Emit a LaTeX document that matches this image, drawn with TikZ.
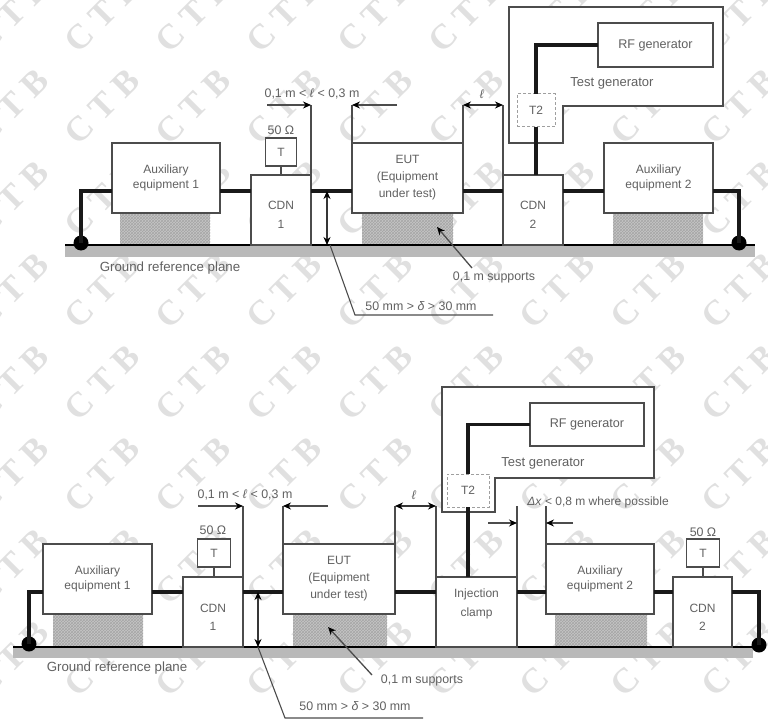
\documentclass[tikz,border=0pt]{standalone}
\usepackage{fontspec}
\setmainfont{Liberation Sans}
\newfontfamily\wmfont[LetterSpace=26]{Liberation Serif}
\usetikzlibrary{arrows.meta,patterns}
\definecolor{wmgray}{gray}{0.88}
\definecolor{ink}{gray}{0.30}
\definecolor{txt}{gray}{0.38}
\tikzset{
  x=1pt,y=-1pt,
  boxnode/.style={draw=ink,line width=1.5pt,fill=white,inner sep=0pt,outer sep=0pt,align=center,
    text=txt,font=\fontsize{12}{15}\selectfont},
  tbox/.style={boxnode,line width=1.1pt},
  t2box/.style={boxnode,draw=gray!75,line width=1pt,densely dashed,fill=white},
  supportnode/.style={inner sep=0pt,outer sep=0pt,preaction={fill=gray!45},pattern=crosshatch,pattern color=gray!70},
  wire/.style={line width=3.2pt,black!90},
  thin dim/.style={line width=1.3pt,ink},
  arrowline/.style={line width=1.3pt,ink,-{Stealth[length=8pt,width=7pt,black]}},
  dblarrow/.style={line width=1.3pt,ink!70!black,{Stealth[length=8pt,width=7pt,black]}-{Stealth[length=8pt,width=7pt,black]}},
  label/.style={text=txt,inner sep=0pt,font=\fontsize{12.4}{14}\selectfont},
  dot/.style={circle,fill=black,inner sep=0pt,minimum size=15pt},
  plane/.style={fill=gray!55,inner sep=0pt,outer sep=0pt},
  genline/.style={draw=ink,line width=1.3pt,fill=white},
  watermark/.style={text=wmgray,rotate=45,inner sep=0pt,font=\wmfont\bfseries\fontsize{35}{35}\selectfont}
}
\begin{document}
\begin{tikzpicture}
\useasboundingbox (0,0) rectangle (768,722);
\fill[white] (0,0) rectangle (768,722);
\begin{scope}
\clip (0,0) rectangle (768,722);
\foreach \i in {-1,...,8}{
  \foreach \j in {0,...,7}{
    \node[watermark] (wm\i x\j) at ({11+91*\i},{15+92*\j}) {CTB};
  }
}
\end{scope}

% ---------- top set-up ----------
\coordinate (busA) at (0,191);
\coordinate (dimA) at (0,105);
\node[plane,minimum width=690pt,minimum height=12pt] (gndA) at (410,251) {};
\node[supportnode,minimum width=90pt,minimum height=32pt] (supA1) at (165,229) {};
\node[supportnode,minimum width=91pt,minimum height=32pt] (supA2) at (407.5,229) {};
\node[supportnode,minimum width=90pt,minimum height=32pt] (supA3) at (658,229) {};
\draw[line width=2.2pt,black] (gndA.north west) -- (gndA.north east);

\draw[genline] (509,7) -- (723,7) -- (723,106) -- (563,106) -- (563,143) -- (509,143) -- cycle;

\node[boxnode,minimum width=108pt,minimum height=70pt] (auxA1) at (166,178) {Auxiliary\\equipment 1};
\node[boxnode,minimum width=60pt,minimum height=70pt] (cdnA1) at (281,210) {\mbox{}\\[3pt]CDN\\[3pt]1};
\node[boxnode,minimum width=111pt,minimum height=70pt] (eutA) at (407.5,178) {EUT\\[2pt](Equipment\\[2pt]under test)};
\node[boxnode,minimum width=60pt,minimum height=70pt] (cdnA2) at (533,210) {\mbox{}\\[3pt]CDN\\[3pt]2};
\node[boxnode,minimum width=109pt,minimum height=70pt] (auxA2) at (658.5,178) {Auxiliary\\equipment 2};
\node[tbox,minimum width=31pt,minimum height=28pt] (tA) at (281,152) {T};
\node[label] (ohmA) at (281,130) {50 Ω};
\node[boxnode,line width=1.3pt,minimum width=115pt,minimum height=44pt,font=\fontsize{12.6}{15}\selectfont] (rfA) at (655.5,45) {RF generator};
\node[t2box,minimum width=38pt,minimum height=33pt] (t2A) at (536,110.5) {T2};
\node[dot] (dotA1) at (81,243) {};
\node[dot] (dotA2) at (739,243) {};
\node[label,font=\fontsize{13}{15}\selectfont] (tgA) at (612,83) {Test generator};

\draw[wire] (dotA1.center) |- (auxA1.west |- busA);
\draw[wire] (auxA1.east |- busA) -- (cdnA1.west |- busA);
\draw[wire] (cdnA1.east |- busA) -- (eutA.west |- busA);
\draw[wire] (eutA.east |- busA) -- (cdnA2.west |- busA);
\draw[wire] (cdnA2.east |- busA) -- (auxA2.west |- busA);
\draw[wire] (auxA2.east |- busA) -| (dotA2.center);
\draw[wire] (rfA.west) -| (t2A.north);
\draw[wire] (t2A.south) -- (cdnA2.north -| t2A.south);
\draw[thin dim] (tA.south) -- (cdnA1.north);

\coordinate (a1a) at (267,105);
\coordinate (a1b) at (397,105);
\draw[thin dim] (cdnA1.north east) -- (cdnA1.east |- dimA);
\draw[thin dim] (eutA.north west) -- (eutA.west |- dimA);
\draw[arrowline] (a1a) -- (cdnA1.east |- dimA);
\draw[arrowline] (a1b) -- (eutA.west |- dimA);
\node[label] (lenA) at (312,94) {0,1 m < \emph{ℓ} < 0,3 m};
\draw[thin dim] (eutA.north east) -- (eutA.east |- dimA);
\draw[thin dim] (cdnA2.north west) -- (cdnA2.west |- dimA);
\draw[dblarrow] (eutA.east |- dimA) -- (cdnA2.west |- dimA);
\node[label] (ellA) at (482,94) {\emph{ℓ}};

\coordinate (hA) at (327,191);
\draw[dblarrow] (hA) -- (hA |- gndA.north);
\coordinate (l1A) at (330,245);
\coordinate (l2A) at (355,315);
\coordinate (l3A) at (493,315);
\draw[line width=1.1pt,ink] (l1A) -- (l2A) -- (l3A);
\node[label] (deltaA) at (421,306) {50 mm > \emph{δ} > 30 mm};
\node[label,font=\fontsize{13.3}{15}\selectfont] (grA) at (170,268) {Ground reference plane};
\coordinate (s1A) at (472,268);
\coordinate (s2A) at (437,227);
\draw[arrowline] (s1A) -- (s2A);
\node[label] (suppA) at (494,277) {0,1 m supports};

% ---------- bottom set-up ----------
\coordinate (busB) at (0,592);
\coordinate (dimB) at (0,506);
\node[plane,minimum width=740pt,minimum height=11pt] (gndB) at (383,652.5) {};
\node[supportnode,minimum width=90pt,minimum height=33pt] (supB1) at (98,630.5) {};
\node[supportnode,minimum width=94pt,minimum height=33pt] (supB2) at (340,630.5) {};
\node[supportnode,minimum width=92pt,minimum height=33pt] (supB3) at (601,630.5) {};
\draw[line width=2.2pt,black] (gndB.north west) -- (gndB.north east);

\draw[genline] (442,387) -- (654,387) -- (654,478) -- (495,478) -- (495,512) -- (442,512) -- cycle;

\node[boxnode,minimum width=109pt,minimum height=70pt] (auxB1) at (97.5,579) {Auxiliary\\equipment 1};
\node[boxnode,minimum width=60pt,minimum height=70pt] (cdnB1) at (213,612) {\mbox{}\\[3pt]CDN\\[3pt]1};
\node[boxnode,minimum width=112pt,minimum height=70pt] (eutB) at (339,579) {EUT\\[2pt](Equipment\\[2pt]under test)};
\node[boxnode,minimum width=81pt,minimum height=70pt] (clampB) at (476.5,612) {Injection\\[4pt]clamp\\[3pt]\mbox{}};
\node[boxnode,minimum width=108pt,minimum height=70pt] (auxB2) at (600,579) {Auxiliary\\equipment 2};
\node[boxnode,minimum width=59pt,minimum height=70pt] (cdnB2) at (702.5,612) {\mbox{}\\[3pt]CDN\\[3pt]2};
\node[tbox,minimum width=33pt,minimum height=28pt] (tB1) at (214,553) {T};
\node[tbox,minimum width=33pt,minimum height=28pt] (tB2) at (703,553) {T};
\node[label] (ohmB1) at (213,530) {50 Ω};
\node[label] (ohmB2) at (703,532) {50 Ω};
\node[boxnode,line width=1.3pt,minimum width=114pt,minimum height=43pt,font=\fontsize{12.6}{15}\selectfont] (rfB) at (587,424.5) {RF generator};
\node[t2box,minimum width=42pt,minimum height=33pt] (t2B) at (468,490.5) {T2};
\node[dot] (dotB1) at (29,644) {};
\node[dot] (dotB2) at (759,645) {};
\node[label,font=\fontsize{13}{15}\selectfont] (tgB) at (543,463) {Test generator};

\draw[wire] (dotB1.center) |- (auxB1.west |- busB);
\draw[wire] (auxB1.east |- busB) -- (cdnB1.west |- busB);
\draw[wire] (cdnB1.east |- busB) -- (eutB.west |- busB);
\draw[wire] (eutB.east |- busB) -- (clampB.west |- busB);
\draw[wire] (clampB.east |- busB) -- (auxB2.west |- busB);
\draw[wire] (auxB2.east |- busB) -- (cdnB2.west |- busB);
\draw[wire] (cdnB2.east |- busB) -| (dotB2.center);
\draw[wire] (rfB.west) -| (t2B.north);
\draw[wire] (t2B.south) -- (clampB.north -| t2B.south);
\draw[thin dim] (tB1.south) -- (cdnB1.north -| tB1.south);
\draw[thin dim] (tB2.south) -- (cdnB2.north -| tB2.south);

\coordinate (b1a) at (198,506);
\coordinate (b1b) at (328,506);
\draw[thin dim] (cdnB1.north east) -- (cdnB1.east |- dimB);
\draw[thin dim] (eutB.north west) -- (eutB.west |- dimB);
\draw[arrowline] (b1a) -- (cdnB1.east |- dimB);
\draw[arrowline] (b1b) -- (eutB.west |- dimB);
\node[label] (lenB) at (245,495) {0,1 m < \emph{ℓ} < 0,3 m};
\draw[thin dim] (eutB.north east) -- (eutB.east |- dimB);
\draw[thin dim] (clampB.north west) -- (clampB.west |- dimB);
\draw[dblarrow] (eutB.east |- dimB) -- (clampB.west |- dimB);
\node[label] (ellB) at (414,495) {\emph{ℓ}};

\coordinate (dxB) at (0,523);
\coordinate (dxa) at (488,523);
\coordinate (dxb) at (573,523);
\draw[thin dim] (clampB.north east) -- (clampB.east |- dimB);
\draw[thin dim] (auxB2.north west) -- (auxB2.west |- dimB);
\draw[arrowline] (dxa) -- (clampB.east |- dxB);
\draw[arrowline] (dxb) -- (auxB2.west |- dxB);
\node[label,font=\fontsize{12}{14}\selectfont] (dxlab) at (598,502) {\emph{Δx} < 0,8 m where possible};

\coordinate (hB) at (258,592);
\draw[dblarrow] (hB) -- (hB |- gndB.north);
\coordinate (l1B) at (258,647);
\coordinate (l2B) at (285,718);
\coordinate (l3B) at (423,718);
\draw[line width=1.1pt,ink] (l1B) -- (l2B) -- (l3B);
\node[label] (deltaB) at (355,706) {50 mm > \emph{δ} > 30 mm};
\node[label,font=\fontsize{13.3}{15}\selectfont] (grB) at (117,668) {Ground reference plane};
\coordinate (s1B) at (372,675);
\coordinate (s2B) at (328,627);
\draw[arrowline] (s1B) -- (s2B);
\node[label] (suppB) at (422,680) {0,1 m supports};
\end{tikzpicture}
\end{document}
